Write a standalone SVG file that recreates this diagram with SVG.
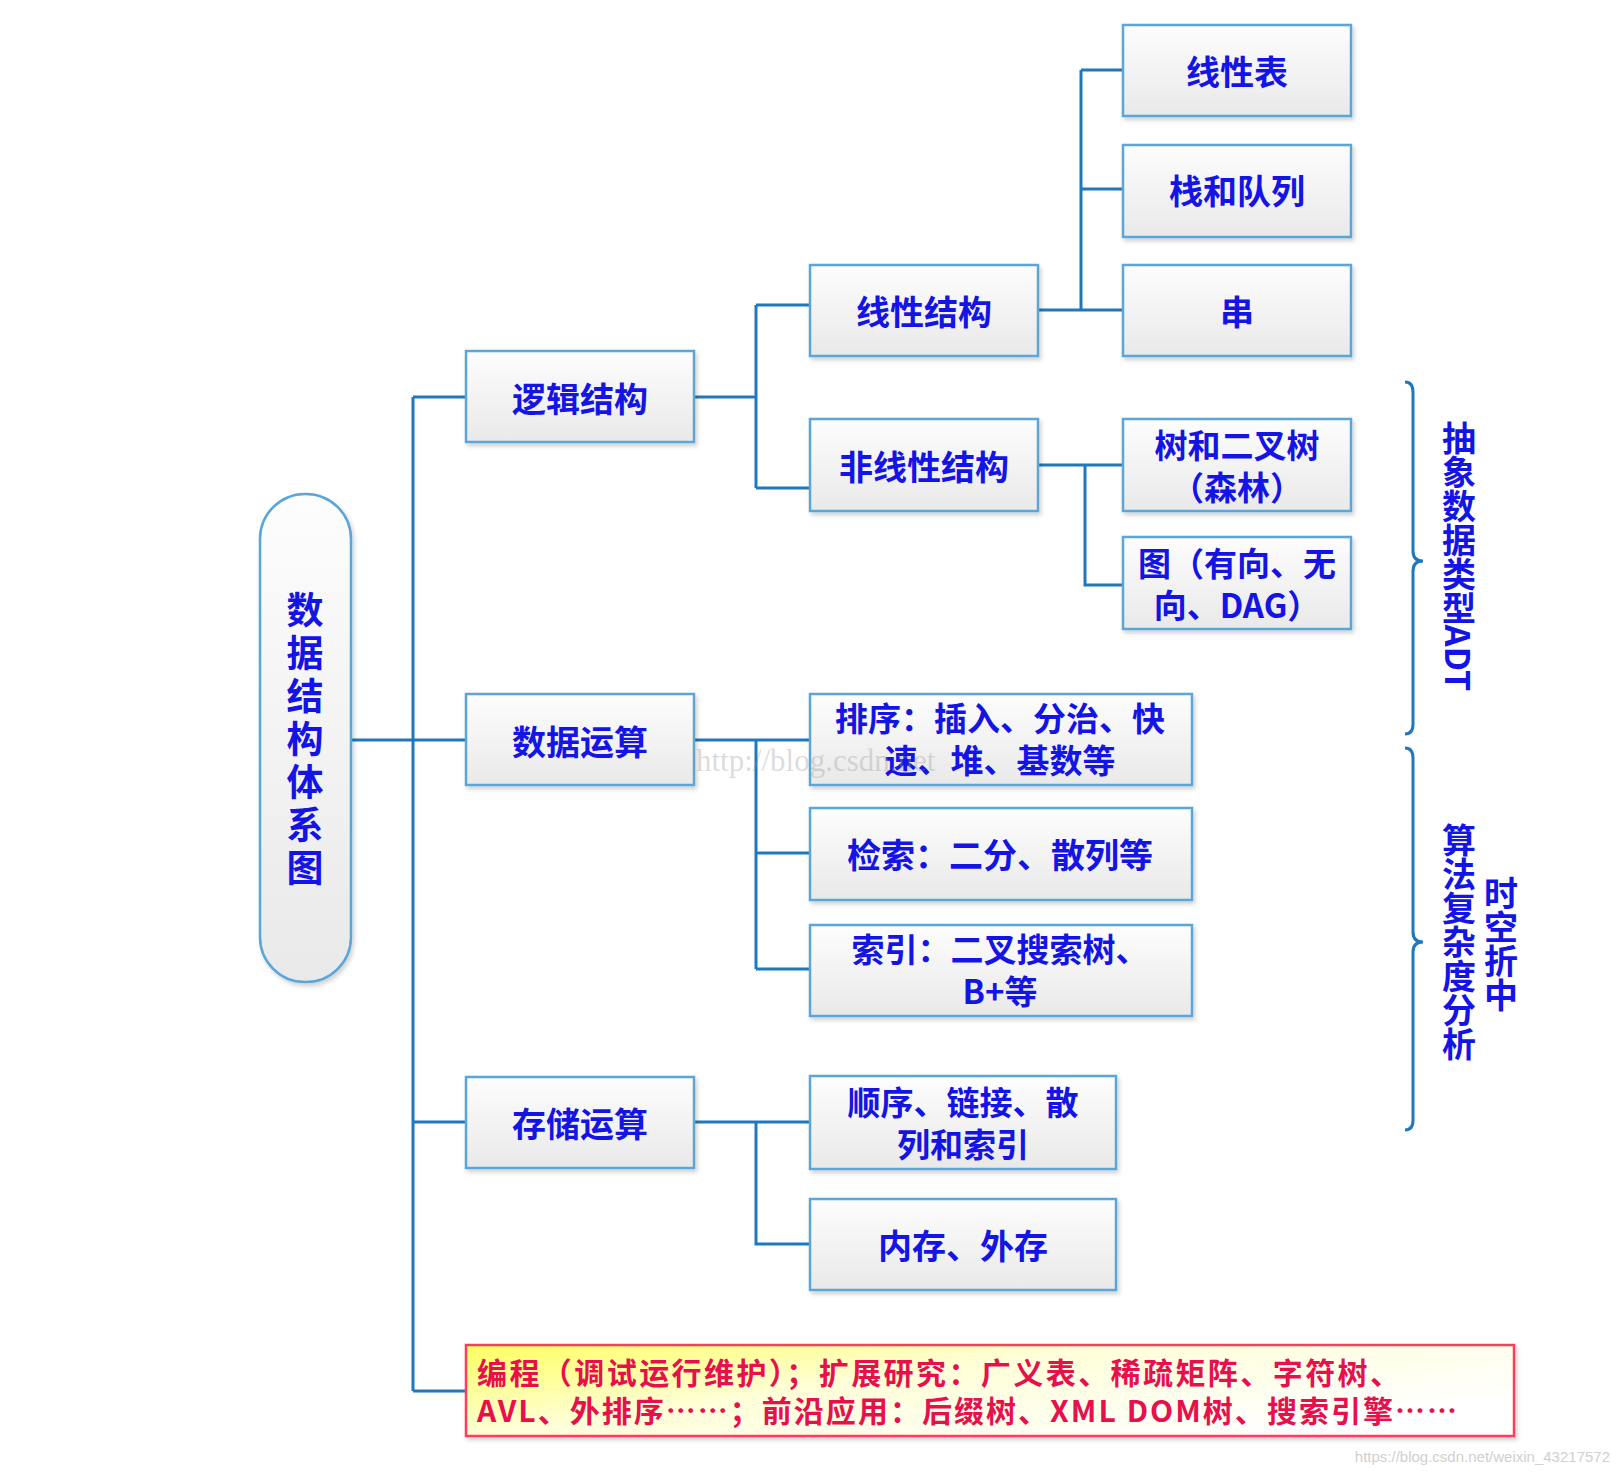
<svg xmlns="http://www.w3.org/2000/svg" width="1620" height="1474" viewBox="0 0 1620 1474">
<defs>
<linearGradient id="boxg" x1="0" y1="0" x2="0" y2="1">
<stop offset="0" stop-color="#fdfdfd"/>
<stop offset="1" stop-color="#e9e9e9"/>
</linearGradient>
<linearGradient id="redg" x1="0" y1="0" x2="1" y2="0.6">
<stop offset="0" stop-color="#ffff60"/>
<stop offset="0.45" stop-color="#ffffd8"/>
<stop offset="1" stop-color="#ffffff"/>
</linearGradient>
<filter id="sh" x="-5%" y="-5%" width="115%" height="120%">
<feDropShadow dx="2" dy="3" stdDeviation="2" flood-color="#000" flood-opacity="0.18"/>
</filter>
<style>
.box{fill:url(#boxg);stroke:#5aa6d8;stroke-width:2.5;filter:url(#sh)}
.t{font-family:"Noto Sans CJK SC","Liberation Sans",sans-serif;font-weight:bold;font-size:34px;fill:#1414e6;text-anchor:middle;dominant-baseline:central}
.t2{font-size:33px}
.v{writing-mode:vertical-rl}
.r{font-family:"Noto Sans CJK SC","Liberation Sans",sans-serif;font-weight:bold;font-size:30px;fill:#e8104c;dominant-baseline:central}
.c{fill:none;stroke:#1f78bd;stroke-width:3}
</style>
</defs>
<rect width="1620" height="1474" fill="#ffffff"/>

<g id="connectors">
<path class="c" d="M351 740 H466 M413 397 V1391 M413 397 H466 M413 740 H466 M413 1122 H466 M413 1391 H466"/>
<path class="c" d="M694 397 H756 M756 305 V488 M756 305 H810 M756 488 H810"/>
<path class="c" d="M1038 310 H1123 M1081 70 V310 M1081 70 H1123 M1081 189 H1123"/>
<path class="c" d="M1038 465 H1123 M1085 465 V585 H1123"/>
<path class="c" d="M694 740 H810 M756 740 V969 M756 853 H810 M756 969 H810"/>
<path class="c" d="M694 1122 H810 M756 1122 V1244 H810"/>
<path class="c" d="M1405 382 Q1413 382 1413 392 L1413 551 Q1413 561 1423 561 Q1413 561 1413 571 L1413 724 Q1413 734 1405 734"/>
<path class="c" d="M1405 748 Q1413 748 1413 758 L1413 932 Q1413 942 1423 942 Q1413 942 1413 952 L1413 1120 Q1413 1130 1405 1130"/>
</g>

<g id="root">
<rect class="box" x="260" y="494" width="91" height="488" rx="45"/>
<text class="t v" x="305" y="742" style="font-size:37px;letter-spacing:6px">数据结构体系图</text>
</g>

<g id="n-luoji"><rect class="box" x="466" y="351" width="228" height="91"/><text class="t" x="580" y="397">逻辑结构</text></g>
<g id="n-shuju"><rect class="box" x="466" y="694" width="228" height="91"/><text class="t" x="580" y="740">数据运算</text></g>
<g id="n-cunchu"><rect class="box" x="466" y="1077" width="228" height="91"/><text class="t" x="580" y="1122">存储运算</text></g>

<g id="n-xianxing"><rect class="box" x="810" y="265" width="228" height="91"/><text class="t" x="924" y="310">线性结构</text></g>
<g id="n-feixianxing"><rect class="box" x="810" y="419" width="228" height="92"/><text class="t" x="924" y="465">非线性结构</text></g>

<g id="n-xianxingbiao"><rect class="box" x="1123" y="25" width="228" height="91"/><text class="t" x="1237" y="70">线性表</text></g>
<g id="n-zhan"><rect class="box" x="1123" y="145" width="228" height="92"/><text class="t" x="1237" y="189">栈和队列</text></g>
<g id="n-chuan"><rect class="box" x="1123" y="265" width="228" height="91"/><text class="t" x="1237" y="310">串</text></g>
<g id="n-shu"><rect class="box" x="1123" y="419" width="228" height="92"/><text class="t t2" x="1237" y="444">树和二叉树</text><text class="t t2" x="1237" y="486">（森林）</text></g>
<g id="n-tu"><rect class="box" x="1123" y="537" width="228" height="92"/><text class="t t2" x="1237" y="562">图（有向、无</text><text class="t t2" x="1237" y="604">向、DAG）</text></g>

<g id="n-paixu"><rect class="box" x="810" y="694" width="382" height="91"/><text class="t t2" x="1000" y="717">排序：插入、分治、快</text><text class="t t2" x="1000" y="759">速、堆、基数等</text></g>
<g id="n-jiansuo"><rect class="box" x="810" y="808" width="382" height="92"/><text class="t" x="1000" y="853">检索：二分、散列等</text></g>
<g id="n-suoyin"><rect class="box" x="810" y="925" width="382" height="91"/><text class="t t2" x="1000" y="948">索引：二叉搜索树、</text><text class="t t2" x="1000" y="990">B+等</text></g>

<g id="n-shunxu"><rect class="box" x="810" y="1076" width="306" height="93"/><text class="t t2" x="963" y="1101">顺序、链接、散</text><text class="t t2" x="963" y="1143">列和索引</text></g>
<g id="n-neicun"><rect class="box" x="810" y="1199" width="306" height="91"/><text class="t" x="963" y="1244">内存、外存</text></g>

<g id="n-extra">
<rect x="466" y="1345" width="1048" height="91" fill="url(#redg)" stroke="#ff3c5a" stroke-width="2.5" filter="url(#sh)"/>
<text class="r" x="477" y="1371" textLength="923" lengthAdjust="spacing">编程（调试运行维护）；扩展研究：广义表、稀疏矩阵、字符树、</text>
<text class="r" x="477" y="1409" textLength="980" lengthAdjust="spacing">AVL、外排序……；前沿应用：后缀树、XML DOM树、搜索引擎……</text>
</g>

<g id="labels">
<text class="t v" x="1459" y="556">抽象数据类型ADT</text>
<text class="t v" x="1459" y="942">算法复杂度分析</text>
<text class="t v" x="1501" y="944">时空折中</text>
</g>

<text x="696" y="771" font-family="Liberation Serif, serif" font-size="31" fill="#9a9a9a" fill-opacity="0.35">http://blog.csdn.net</text>
<text x="1610" y="1462" font-family="Liberation Sans, sans-serif" font-size="15" fill="#d0d0d0" text-anchor="end">https://blog.csdn.net/weixin_43217572</text>
</svg>
